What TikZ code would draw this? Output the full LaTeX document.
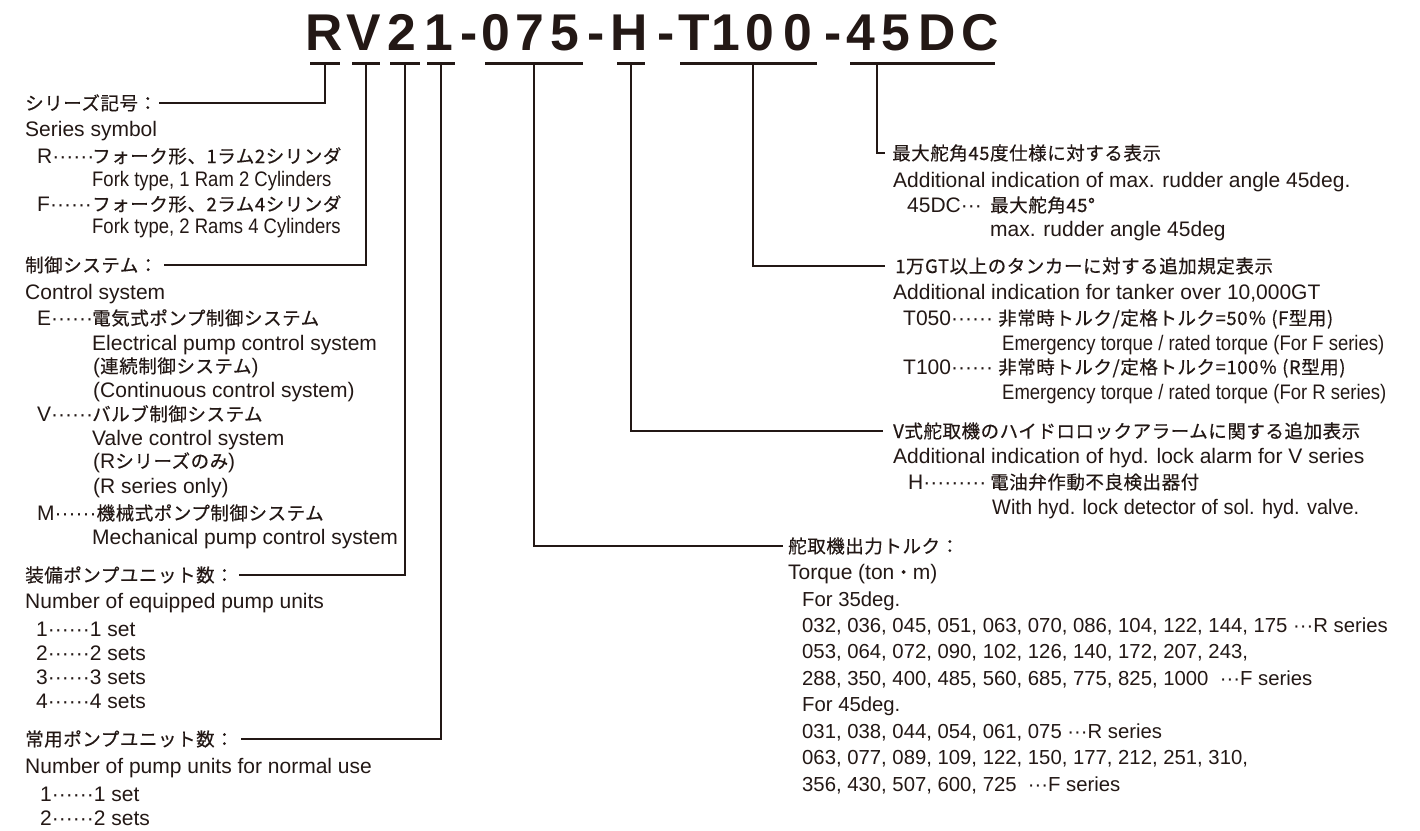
\documentclass[tikz,border=0pt]{standalone}
\usepackage{fontspec}
\setmainfont{Liberation Sans}
\newfontfamily\jpfont[LetterSpace=3,FakeBold=0.4]{Noto Sans CJK JP}
\newfontfamily\condA[FakeStretch=0.88]{Liberation Sans}
\newfontfamily\condB[FakeStretch=0.95]{Liberation Sans}
\newcommand\jtxt[1]{{\jpfont\fontsize{18.5}{22}\selectfont #1}}
\definecolor{ink}{HTML}{231815}
\tikzset{
  txt/.style={anchor=base west, inner sep=0pt, text=ink, font=\fontsize{21}{25}\selectfont},
  numrow/.style={txt, font=\fontsize{20.3}{24}\selectfont},
  ttl/.style={anchor=base, inner sep=0pt, text=ink, font=\fontsize{51.7}{60}\selectfont\bfseries},
  ubar/.style={fill=ink, inner sep=0pt, minimum height=3.3pt},
  conn/.style={draw=ink, line width=1.4pt}
}
\begin{document}
\begin{tikzpicture}[x=1pt,y=-1pt]
\fill[white] (0,0) rectangle (1420,830);
\useasboundingbox (0,0) rectangle (1420,830);

% title
\foreach \ch/\x [count=\i] in {R/324,V/364,2/402,1/439,-/469,0/496,7/530,5/565,-/596,H/629,-/666,T/694,1/726,0/760,0/798,-/833,4/861,5/896,D/937,C/980}
  \node[ttl] (c\i) at (\x,50) {\ch};

% underline bars
\node[ubar, minimum width=30pt] (bR) at (325,63.5) {};
\node[ubar, minimum width=28pt] (bV) at (366,63.5) {};
\node[ubar, minimum width=30pt] (b2) at (405,63.5) {};
\node[ubar, minimum width=28pt] (b1) at (441,63.5) {};
\node[ubar, minimum width=98pt] (b075) at (534,63.5) {};
\node[ubar, minimum width=28pt] (bH) at (631,63.5) {};
\node[ubar, minimum width=137pt] (bT) at (748.5,63.5) {};
\node[ubar, minimum width=145pt] (b45) at (922.5,63.5) {};
\coordinate (tapT) at (753,65);
\coordinate (tap45) at (877,65);

% left: series symbol
\node[txt] (hA) at (25,110) {\jtxt{シリーズ記号：}};
\node[txt] (a1) at (25,136) {Series symbol};
\node[txt] (a2k) at (37,163) {R······};
\node[txt] (a2) at (92,163) {\jtxt{フォーク形、1ラム2シリンダ}};
\node[txt] (a3) at (92,186) {\condA Fork type, 1 Ram 2 Cylinders};
\node[txt] (a4k) at (37,211) {F······};
\node[txt] (a4) at (92,211) {\jtxt{フォーク形、2ラム4シリンダ}};
\node[txt] (a5) at (92,233) {\condA Fork type, 2 Rams 4 Cylinders};

% left: control system
\node[txt] (hB) at (25,272) {\jtxt{制御システム：}};
\node[txt] (bb1) at (25,299) {Control system};
\node[txt] (bb2k) at (37,325) {E······};
\node[txt] (bb2) at (92,325) {\jtxt{電気式ポンプ制御システム}};
\node[txt] (bb3) at (92,350) {Electrical pump control system};
\node[txt] (bb4) at (93,373) {(\jtxt{連続制御システム})};
\node[txt] (bb5) at (93,397) {(Continuous control system)};
\node[txt] (bb6k) at (37,421) {V······};
\node[txt] (bb6) at (92,421) {\jtxt{バルブ制御システム}};
\node[txt] (bb7) at (92,445) {Valve control system};
\node[txt] (bb8) at (93,468) {(R\jtxt{シリーズのみ})};
\node[txt] (bb9) at (93,493) {(R series only)};
\node[txt] (bb10) at (37,520) {M······\jtxt{機械式ポンプ制御システム}};
\node[txt] (bb11) at (92,544) {Mechanical pump control system};

% left: equipped pump units
\node[txt] (hC) at (25,582) {\jtxt{装備ポンプユニット数：}};
\node[txt] (cc1) at (25,608) {Number of equipped pump units};
\node[txt] (cc2) at (36,636) {1······1 set};
\node[txt] (cc3) at (36,660) {2······2 sets};
\node[txt] (cc4) at (36,684) {3······3 sets};
\node[txt] (cc5) at (36,708) {4······4 sets};

% left: normal use
\node[txt] (hD) at (25,746) {\jtxt{常用ポンプユニット数：}};
\node[txt] (dd1) at (25,773) {Number of pump units for normal use};
\node[txt] (dd2) at (40,801) {1······1 set};
\node[txt] (dd3) at (40,825) {2······2 sets};

% right: 45DC
\node[txt] (hE) at (892,160) {\jtxt{最大舵角45度仕様に対する表示}};
\node[txt] (ee1) at (893,187) {Additional indication of max. rudder angle 45deg.};
\node[txt] (ee2k) at (907,212) {45DC···};
\node[txt] (ee2) at (990,212) {\jtxt{最大舵角45°}};
\node[txt] (ee3) at (990,236) {max. rudder angle 45deg};

% right: T100
\node[txt] (hF) at (895,273) {\jtxt{1万GT以上のタンカーに対する追加規定表示}};
\node[txt] (ff1) at (893,299) {Additional indication for tanker over 10,000GT};
\node[txt] (ff2k) at (903,325) {T050······};
\node[txt] (ff2) at (998,325) {\jtxt{非常時トルク/定格トルク=50％ (F型用)}};
\node[txt] (ff3) at (1002,350) {\condA Emergency torque / rated torque (For F series)};
\node[txt] (ff4k) at (903,374) {T100······};
\node[txt] (ff4) at (998,374) {\jtxt{非常時トルク/定格トルク=100％ (R型用)}};
\node[txt] (ff5) at (1002,399) {\condA Emergency torque / rated torque (For R series)};

% right: H
\node[txt] (hG) at (893,438) {\jtxt{V式舵取機のハイドロロックアラームに関する追加表示}};
\node[txt] (gg1) at (893,463) {Additional indication of hyd. lock alarm for V series};
\node[txt] (gg2k) at (908,489) {H·········};
\node[txt] (gg2) at (990,489) {\jtxt{電油弁作動不良検出器付}};
\node[txt] (gg3) at (992,514) {\condB With hyd. lock detector of sol. hyd. valve.};

% right: torque
\node[txt] (hH) at (788,553) {\jtxt{舵取機出力トルク：}};
\node[txt] (hh1) at (788,579) {Torque (ton\jtxt{・}m)};
\node[numrow] (hh2) at (802,606) {For 35deg.};
\node[numrow] (hh3) at (802,632) {032, 036, 045, 051, 063, 070, 086, 104, 122, 144, 175 ···R series};
\node[numrow] (hh4) at (802,658) {053, 064, 072, 090, 102, 126, 140, 172, 207, 243,};
\node[numrow] (hh5) at (802,685) {288, 350, 400, 485, 560, 685, 775, 825, 1000 \ ···F series};
\node[numrow] (hh6) at (802,711) {For 45deg.};
\node[numrow] (hh7) at (802,738) {031, 038, 044, 054, 061, 075 ···R series};
\node[numrow] (hh8) at (802,764) {063, 077, 089, 109, 122, 150, 177, 212, 251, 310,};
\node[numrow] (hh9) at (802,791) {356, 430, 507, 600, 725 \ ···F series};

% connectors
\draw[conn] (bR.south) |- ([xshift=2pt]hA.east);
\draw[conn] (bV.south) |- ([xshift=6pt]hB.east);
\draw[conn] (b2.south) |- ([xshift=5pt]hC.east);
\draw[conn] (b1.south) |- ([xshift=7pt]hD.east);
\draw[conn] (b075.south) |- ([xshift=-5pt]hH.west);
\draw[conn] (bH.south) |- ([xshift=-10pt]hG.west);
\draw[conn] (tapT) |- ([xshift=-10pt]hF.west);
\draw[conn] (tap45) |- ([xshift=-7pt]hE.west);
\end{tikzpicture}
\end{document}
